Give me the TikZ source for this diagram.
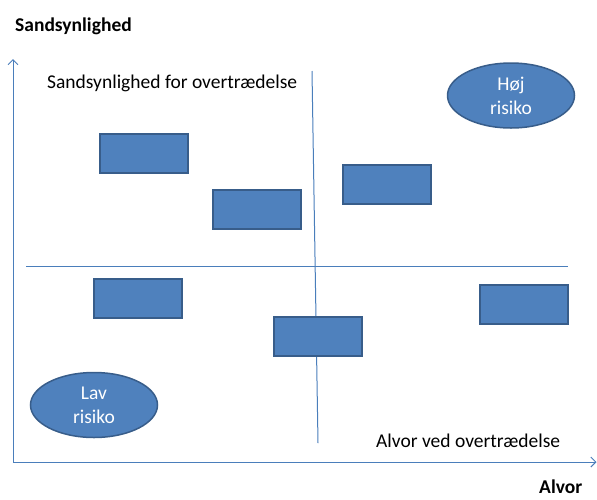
\documentclass[tikz,border=0pt]{standalone}
\usepackage{fontspec}
\setmainfont{Carlito}
\usetikzlibrary{shapes.geometric,arrows.meta}
\definecolor{boxfill}{HTML}{4F81BD}
\definecolor{boxline}{HTML}{385D8A}
\definecolor{axisline}{HTML}{4A7EBB}
\begin{document}
\begin{tikzpicture}[x=1pt,y=-1pt,
  txt/.style={inner sep=0pt,font=\fontsize{19.5}{25}\selectfont},
  boldtxt/.style={inner sep=0pt,font=\fontsize{19.5}{25}\selectfont\bfseries},
  riskbox/.style={draw=boxline,line width=2pt,fill=boxfill,minimum width=88pt,minimum height=39pt,inner sep=0pt},
  risk/.style={ellipse,draw=boxline,line width=1.5pt,fill=boxfill,minimum width=127pt,minimum height=65pt,inner sep=0pt,text=white,align=center,font=\fontsize{19.5}{24}\selectfont},
  axis/.style={draw=axisline,line width=1pt},
  tip/.style={-{Straight Barb[length=5pt,width=10pt]}}]
\useasboundingbox (0,0) rectangle (597,499);
% axes
\coordinate (O) at (13,462);
\coordinate (Ytip) at (13,59);
\coordinate (Xtip) at (596.5,462);
\draw[axis,tip] (O) -- (Ytip);
\draw[axis,tip] (O) -- (Xtip);
% cross lines
\coordinate (vtop) at (312,71);
\coordinate (vbot) at (318,443);
\coordinate (hleft) at (26,266);
\coordinate (hright) at (568,266);
\draw[axis] (vtop) -- (vbot);
\draw[axis] (hleft) -- (hright);
% labels
\node[boldtxt,anchor=base west] (ylab) at (15,31) {Sandsynlighed};
\node[boldtxt,anchor=base west] (xlab) at (539,493.5) {Alvor};
\node[txt,anchor=base west] (ytitle) at (47,88) {Sandsynlighed for overtrædelse};
\node[txt,anchor=base west] (xtitle) at (376,447) {Alvor ved overtrædelse};
% boxes
\node[riskbox] (b1) at (144,153) {};
\node[riskbox] (b2) at (256.5,209.5) {};
\node[riskbox] (b3) at (387,184.5) {};
\node[riskbox] (b4) at (138,298.5) {};
\node[riskbox] (b5) at (318,336.5) {};
\node[riskbox] (b6) at (523.5,304.5) {};
% ellipses
\node[risk] (hoej) at (511,95.5) {Høj\\risiko};
\node[risk] (lav) at (94,405) {Lav\\risiko};
\end{tikzpicture}
\end{document}
